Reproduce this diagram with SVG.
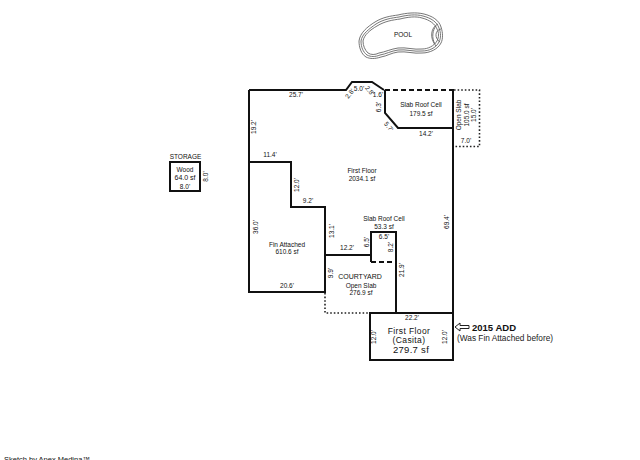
<svg xmlns="http://www.w3.org/2000/svg" width="640" height="460" viewBox="0 0 640 460">
<style>
text{font-family:"Liberation Sans",Arial,sans-serif;font-size:6.5px;fill:#111;text-anchor:middle}
.w{fill:none;stroke:#111;stroke-width:2}
.da{fill:none;stroke:#111;stroke-width:2;stroke-dasharray:5 3}
.do{fill:none;stroke:#222;stroke-width:1.6;stroke-dasharray:1.6 2}
.p{fill:none;stroke:#666;stroke-width:.9}
.c{font-size:8.5px;letter-spacing:.4px}
</style>
<rect width="640" height="460" fill="#fff"/>
<g id="pool">
<path class="p" d="M359 41C360 33 367 27 375 22C383 17 391 16 398 15C406 13 416 12 424 14C432 16 439 20 441 27C443 33 443 39 441 43C438 49 430 53 422 53C414 54 406 51 398 52C391 53 387 56 381 57C375 59 370 59 366 57C361 54 359 47 359 41Z"/>
<path class="p" d="M361 41C362 34 369 29 376 24C384 19 392 18 399 17C407 15 416 14 423 16C431 18 437 22 439 28C441 33 441 38 439 42C436 48 429 51 422 51C414 52 406 49 398 50C391 51 386 54 380 55C375 57 371 57 367 55C363 52 361 47 361 41Z"/>
<path class="p" d="M363 41C364 35 370 30 377 26C385 21 393 20 400 19C408 17 416 16 422 18C430 20 435 24 437 29C439 33 439 37 437 41C434 46 428 49 422 49C414 50 406 47 398 48C391 49 385 52 379 53C375 55 371 55 368 53C365 50 363 46 363 41Z"/>
<path class="p" d="M438 24C431 27 429 38 436 46M436 26C433 29 431 38 435 44M441 29C435 30 434 38 440 42"/>
<text x="403" y="37">POOL</text>
</g>
<g id="connectors">
<path class="w" d="M249 90H346L352 82H372L384 90"/>
<path class="w" d="M249 90V292H325V207H291V162H249"/>
<path class="w" d="M385 90V113L398 128H453V313M453 89V128"/>
<path class="da" d="M385 90H453"/>
<path class="do" d="M454 90H479.500V146.500H454"/>
<path class="w" d="M325 255H371V232H396V313"/>
<path class="da" d="M371 262H396"/>
<path class="w" d="M371 232V262"/>
<path class="do" d="M325 293V313H369"/>
</g>
<g id="storage">
<rect class="w" x="170" y="162" width="30" height="29"/>
<text x="185.500" y="158.500">STORAGE</text>
<text x="185" y="172" style="font-size:6.5px">Wood</text>
<text x="185" y="179.500" style="font-size:7px">64.0 sf</text>
<text x="185" y="189">8.0'</text>
<text transform="translate(208,176.500) rotate(-90)">8.0'</text>
</g>
<g id="first-floor">
<text x="362" y="173">First Floor</text>
<text x="362" y="180.500">2034.1 sf</text>
<text x="296" y="97">25.7'</text>
<text transform="translate(256,127) rotate(-90)">19.2'</text>
<text x="270" y="157">11.4'</text>
<text transform="translate(299,185) rotate(-90)">12.0'</text>
<text x="308" y="202.500">9.2'</text>
<text transform="translate(334,231) rotate(-90)">13.1'</text>
<text transform="translate(449,222) rotate(-90)">69.4'</text>
<text transform="translate(351.500,95) rotate(-52)">2.8'</text>
<text x="359" y="90.500">5.0'</text>
<text transform="translate(368,92) rotate(50)">2.8'</text>
<text x="378" y="97">1.6'</text>
</g>
<g id="slab-roof-cell-1">
<text x="421" y="107">Slab Roof Cell</text>
<text x="421" y="116">179.5 sf</text>
<text transform="translate(381,107) rotate(-90)">6.3'</text>
<text transform="translate(387,128) rotate(50)">5.7'</text>
<text x="426" y="136">14.2'</text>
</g>
<g id="open-slab">
<text transform="translate(461,115) rotate(-90)">Open Slab</text>
<text transform="translate(469,115) rotate(-90)">105.0 sf</text>
<text transform="translate(476,115) rotate(-90)">15.0'</text>
<text x="466" y="143">7.0'</text>
</g>
<g id="fin-attached">
<text x="287" y="246.500">Fin Attached</text>
<text x="287" y="253.500">610.6 sf</text>
<text transform="translate(258,227) rotate(-90)">36.0'</text>
<text x="287" y="287.500">20.6'</text>
</g>
<g id="slab-roof-cell-2">
<text x="384" y="221">Slab Roof Cell</text>
<text x="384" y="228.500">53.3 sf</text>
<text x="384" y="239">6.5'</text>
<text transform="translate(369,242) rotate(-90)">6.5'</text>
<text transform="translate(393,247) rotate(-90)">8.2'</text>
</g>
<g id="courtyard">
<text x="360" y="278.500" style="font-size:7px">COURTYARD</text>
<text x="361" y="287.500">Open Slab</text>
<text x="361" y="295">276.9 sf</text>
<text x="347" y="249.500">12.2'</text>
<text transform="translate(333,273) rotate(-90)">9.9'</text>
<text transform="translate(404,270) rotate(-90)">21.9'</text>
</g>
<g id="casita">
<rect class="w" x="370" y="313" width="83" height="47"/>
<text x="412" y="319.500">22.2'</text>
<text class="c" x="409" y="334">First Floor</text>
<text class="c" x="409" y="342.500">(Casita)</text>
<text class="c" x="411" y="353" style="font-size:9.500px;letter-spacing:.3px">279.7 sf</text>
<text transform="translate(376,337) rotate(-90)">12.0'</text>
<text transform="translate(447,337) rotate(-90)">12.0'</text>
</g>
<g id="annotation">
<path fill="#fff" stroke="#222" stroke-width="1" d="M455 327L460 323V325.500H469V328.500H460V331Z"/>
<text x="472" y="331" style="font-size:9.500px;font-weight:bold;text-anchor:start">2015 ADD</text>
<text x="457" y="341" style="font-size:8.300px;text-anchor:start;fill:#222">(Was Fin Attached before)</text>
</g>
<text x="4" y="462" style="font-size:7.500px;text-anchor:start">Sketch by Apex Medina™</text>
</svg>
